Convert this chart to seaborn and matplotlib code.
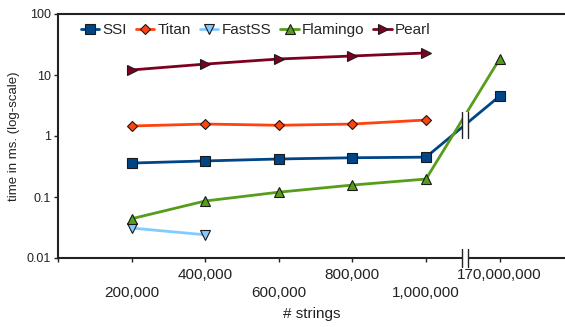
import pandas as pd
import matplotlib
matplotlib.use('Agg')
import matplotlib.pyplot as plt
import matplotlib.transforms as mtransforms
from matplotlib.patches import Rectangle
import seaborn as sns

#Datos
categorias = ['200,000', '400,000', '600,000', '800,000', '1,000,000', '170,000,000']
ssi = [0.36, 0.39, 0.42, 0.44, 0.45, 4.5]
titan = [1.46, 1.57, 1.5, 1.57, 1.83, None]
fastss = [0.031, 0.024, None, None, None, None]
flamingo = [0.044, 0.086, 0.12, 0.157, 0.197, 18.3]
pearl = [12.1, 15.1, 18.3, 20.5, 23.0, None]

series = {'SSI': ssi, 'Titan': titan, 'FastSS': fastss, 'Flamingo': flamingo, 'Pearl': pearl}
colores = {'SSI': '#004586', 'Titan': '#ff420e', 'FastSS': '#83caff',
           'Flamingo': '#579d1c', 'Pearl': '#7e0021'}
marcadores = {'SSI': 's', 'Titan': 'D', 'FastSS': 'v', 'Flamingo': '^', 'Pearl': '>'}
tamanos = {'SSI': 7, 'Titan': 5, 'FastSS': 7, 'Flamingo': 7, 'Pearl': 7}

filas = []
for nombre, valores in series.items():
    for i, v in enumerate(valores):
        if v is not None:
            filas.append({'pos': i + 1, 'time': v, 'algo': nombre})
data_df = pd.DataFrame(filas)

sns.set_style('ticks')
plt.rcParams['font.family'] = ['Liberation Sans', 'DejaVu Sans']

fig = plt.figure(figsize=(5.65, 3.27), dpi=100)
ax = fig.add_axes([58 / 565, 69 / 327, 507 / 565, 244 / 327])

for nombre in series:
    sub = data_df[data_df['algo'] == nombre]
    sns.lineplot(data=sub, x='pos', y='time', ax=ax, color=colores[nombre],
                 marker=marcadores[nombre], markersize=tamanos[nombre],
                 markeredgecolor='#1a1a1a', markeredgewidth=0.8,
                 linewidth=2, label=nombre, zorder=3)

ax.set_yscale('log')
ax.set_ylim(0.01, 100)
ax.set_xlim(0, 507 / 73.6)
ax.set_yticks([0.01, 0.1, 1, 10, 100])
ax.set_yticklabels(['0.01', '0.1', '1', '10', '100'])
ax.minorticks_off()
ax.set_xticks(range(1, 7))
ax.set_xticklabels(categorias)
ax.tick_params(axis='both', length=3, width=1, color='#222222', labelcolor='#222222', pad=2)
ax.tick_params(axis='y', labelsize=9)
ax.tick_params(axis='x', labelsize=11, pad=4)
ax.set_xticks([0], minor=True)
ax.tick_params(axis='x', which='minor', length=3, width=1)

# etiquetas escalonadas
bajar = mtransforms.ScaledTranslation(0, -18 / 100, fig.dpi_scale_trans)
for lbl in ax.get_xticklabels()[::2]:
    lbl.set_transform(lbl.get_transform() + bajar)

for lado in ['left', 'bottom', 'top']:
    ax.spines[lado].set_linewidth(1.5)
    ax.spines[lado].set_color('#222222')
ax.spines['right'].set_visible(False)

ax.set_xlabel('# strings', fontsize=11, color='#222222', labelpad=5)
ax.set_ylabel('time in ms. (log-scale)', fontsize=9.5, color='#222222', labelpad=5)

# marcas de corte
x1, x2 = (462 - 58) / 73.6, (468 - 58) / 73.6
ax.add_patch(Rectangle((x1, 0.93), x2 - x1, 2.47 - 0.93, facecolor='white', edgecolor='none', zorder=4))
ax.plot([x1, x1], [0.93, 2.47], color='#222222', lw=1, zorder=5)
ax.plot([x2, x2], [0.93, 2.47], color='#222222', lw=1, zorder=5)
trans = mtransforms.blended_transform_factory(ax.transData, ax.transAxes)
ax.add_patch(Rectangle((x1, -0.03), x2 - x1, 0.06, transform=trans, facecolor='white',
                       edgecolor='none', clip_on=False, zorder=4))
ax.plot([x1, x1], [-0.035, 0.035], transform=trans, color='#222222', lw=1, clip_on=False, zorder=5)
ax.plot([x2, x2], [-0.035, 0.035], transform=trans, color='#222222', lw=1, clip_on=False, zorder=5)

ax.legend(loc='upper center', bbox_to_anchor=(0.39, 1.02), ncol=5, frameon=False,
          fontsize=11, handlelength=1.2, handletextpad=0.2, columnspacing=0.6)

plt.savefig('out.png', dpi=100)
